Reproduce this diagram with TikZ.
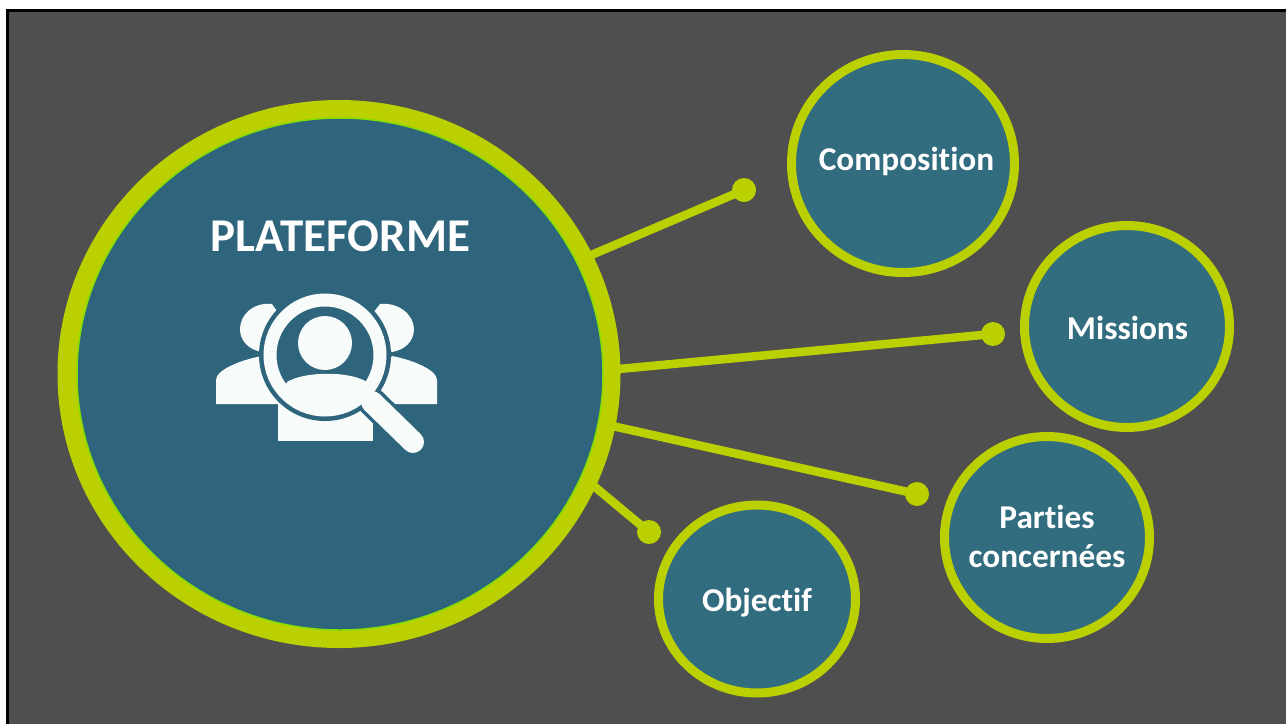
\documentclass[tikz,border=0pt]{standalone}
\usepackage{fontspec}
\setmainfont{Carlito}[Ligatures=NoCommon]
\definecolor{bgc}{HTML}{4F4F4F}
\definecolor{lime}{HTML}{BBD000}
\definecolor{tealc}{HTML}{316C7F}
\definecolor{tealb}{HTML}{2F657C}
\definecolor{icon}{HTML}{F7FBFA}
\usetikzlibrary{shapes.geometric}
\tikzset{
  small/.style={ellipse,draw=lime,line width=9pt,fill=tealc,inner sep=0pt},
  lbl/.style={text=white,font=\bfseries\fontsize{33.3}{39}\selectfont,align=center,inner sep=0pt},
  conn/.style={draw=lime,line width=8.5pt},
  dot/.style={circle,fill=lime,minimum size=24pt,inner sep=0pt},
  iconw/.style={fill=icon,draw=none}
}
\begin{document}
\begin{tikzpicture}[x=1pt,y=-1pt]
\useasboundingbox (0,0) rectangle (1286,724);
\fill[white] (0,0) rectangle (1286,724);
\fill[black] (6,9) rectangle (1286,724);
\fill[bgc] (8.5,11.5) rectangle (1286,724);
% main circle
\node[ellipse,fill=lime,minimum width=563pt,minimum height=548pt,inner sep=0pt] (main) at (339,374) {};
\node[ellipse,fill=tealb,draw=lime!70!green,line width=1.5pt,minimum width=526pt,minimum height=512pt,inner sep=0pt] (maininner) at (340,374) {};
% dots
\node[dot] (d1) at (744,190) {};
\node[dot] (d2) at (993,334) {};
\node[dot] (d3) at (917,494) {};
\node[dot] (d4) at (649,532) {};
\coordinate (s1) at (589,256);
\coordinate (s2) at (608,370);
\coordinate (s3) at (608,425);
\coordinate (s4) at (589,482);
\draw[conn] (s1) -- (d1.center);
\draw[conn] (s2) -- (d2.center);
\draw[conn] (s3) -- (d3.center);
\draw[conn] (s4) -- (d4.center);
% satellites
\node[small,minimum width=223pt,minimum height=218pt] (comp) at (903,163.5) {};
\node[small,minimum width=205pt,minimum height=202pt] (miss) at (1127,326.5) {};
\node[small,minimum width=205pt,minimum height=202pt] (part) at (1047,537.5) {};
\node[small,minimum width=197pt,minimum height=188pt] (obj) at (757,599) {};
\node[lbl] (tcomp) at (906.5,161) {Composition};
\node[lbl] (tmiss) at (1127.5,328) {Missions};
\node[lbl,anchor=center] (tpart) at (1047,536) {Parties\\concernées};
\node[lbl] (tobj) at (757,602.5) {Objectif};
\node[lbl,font=\bfseries\fontsize{47}{50}\selectfont] (tmain) at (340.5,236) {PLATEFORME};
% icon
\begin{scope}
\fill[iconw] (272,304) .. controls (252,302) and (240,316) .. (240,329) .. controls (240,342) and (250,350) .. (262,352) -- (290,330) -- cycle;
\fill[iconw] (380,304) .. controls (400,302) and (414,316) .. (414,329) .. controls (414,342) and (404,350) .. (392,352) -- (360,330) -- cycle;
\fill[iconw] (216,404) -- (216,380) .. controls (216,370) and (240,360) .. (262,356) -- (290,404) -- cycle;
\fill[iconw] (437,404) -- (437,380) .. controls (437,370) and (413,360) .. (392,356) -- (360,404) -- cycle;
\fill[iconw] (278,441) -- (278,400) -- (373,400) -- (373,441) -- cycle;
\fill[tealb] (325,355) circle[radius=66];
\draw[line width=29pt,line cap=round,tealb] (372,402) -- (413,442);
\draw[line width=22pt,line cap=round,icon] (372,402) -- (413,442);
\draw[line width=13pt,icon] (325,355) circle[radius=55];
\fill[icon] (325,343) circle[radius=27];
\begin{scope}
\clip (325,355) circle[radius=50];
\fill[icon] (270,420) -- (287,382) .. controls (305,371) and (350,371) .. (367,382) -- (380,420) -- cycle;
\end{scope}
\end{scope}
\end{tikzpicture}
\end{document}
